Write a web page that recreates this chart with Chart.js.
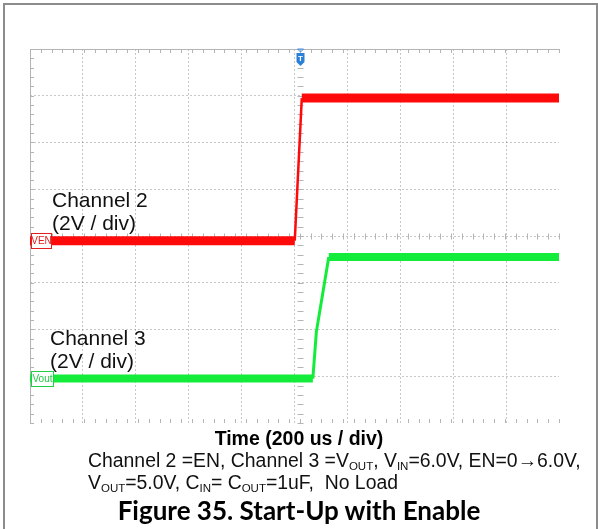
<!DOCTYPE html>
<html>
<head>
<meta charset="utf-8">
<script src="https://cdn.jsdelivr.net/npm/chart.js@4"></script>
<style>
  body { margin: 0; background: #fff; }
  #wrap { position: relative; width: 598px; height: 529px; overflow: hidden; font-family: "Liberation Sans", Arial, sans-serif; }
  #frame { position: absolute; left: 3px; top: 3px; width: 591px; height: 600px; border: 2px solid #8c8c8c; }
  canvas { position: absolute; left: 0; top: 0; }
  .lbl { position: absolute; font-size: 21px; line-height: 23px; color: #111; }
  .cap { position: absolute; left: 88px; font-size: 19.4px; line-height: 22px; color: #111; white-space: nowrap; }
  .cap sub { font-size: 11.5px; vertical-align: -3px; line-height: 0; }
  #xtitle { position: absolute; left: 0; width: 598px; top: 427px; line-height: 22px; text-align: center; font-weight: bold; font-size: 19.5px; color: #000; }
  #fig { position: absolute; left: 0; width: 598px; top: 494px; text-align: center; font-family: Lato, "Open Sans", sans-serif; font-weight: bold; font-size: 26px; color: #000; }
</style>
</head>
<body>
<div id="wrap">
  <div id="frame"></div>
  <canvas id="scope" width="598" height="529"></canvas>
  <div class="lbl" style="left:52px;top:188px">Channel 2<br>(2V / div)</div>
  <div class="lbl" style="left:50px;top:326px">Channel 3<br>(2V / div)</div>
  <div id="xtitle">Time (200 us / div)</div>
  <div class="cap" style="top:449px">Channel 2 =EN, Channel 3 =V<sub>OUT</sub>, V<sub>IN</sub>=6.0V, EN=0→6.0V,</div>
  <div class="cap" style="top:471px">V<sub>OUT</sub>=5.0V, C<sub>IN</sub>= C<sub>OUT</sub>=1uF,&nbsp; No Load</div>
  <div id="fig">Figure 35. Start-Up with Enable</div>
</div>
<script>
// scope settings
const usPerDiv = 200
const voltsPerDiv = 2
const timeMin = -1000
const timeMax = 960

// channel 2 (EN), ground marker at -0.1 div
const enGroundDiv = -0.1
const enTime = [-1000, -19, 7, 960]
const enVolts = [0, 0, 6.1, 6.1]

// channel 3 (VOUT), ground marker at -3.05 div
const voutGroundDiv = -3.05
const voutTime = [-1000, 48, 61, 107, 960]
const voutVolts = [0, 0, 2.0, 5.2, 5.2]

const toPoints = (ts, vs, gnd) => ts.map((t, i) => ({ x: t, y: gnd + vs[i] / voltsPerDiv }))

const scopeDecor = {
  id: 'scopeDecor',
  beforeDatasetsDraw(chart) {
    const { ctx, chartArea: a, scales: { x, y } } = chart
    ctx.save()
    ctx.strokeStyle = '#b4b4b4'
    ctx.lineWidth = 1
    ctx.beginPath()
    ctx.moveTo(a.left, a.top + 0.5); ctx.lineTo(a.right, a.top + 0.5)
    ctx.moveTo(a.left + 0.5, a.top); ctx.lineTo(a.left + 0.5, a.bottom)
    // minor ticks, 5 per division
    const cx = Math.round(x.getPixelForValue(0)) + 0.5
    const cy = Math.round(y.getPixelForValue(0)) + 0.5
    for (let t = timeMin; t <= timeMax; t += usPerDiv / 5) {
      const px = Math.round(x.getPixelForValue(t)) + 0.5
      ctx.moveTo(px, a.top); ctx.lineTo(px, a.top + 4)
      ctx.moveTo(px, a.bottom); ctx.lineTo(px, a.bottom - 4)
      ctx.moveTo(px, cy - 3); ctx.lineTo(px, cy + 3)
    }
    for (let d = -4; d <= 4; d += 0.2) {
      const py = Math.round(y.getPixelForValue(d)) + 0.5
      ctx.moveTo(a.left, py); ctx.lineTo(a.left + 4, py)
      ctx.moveTo(cx - 3, py); ctx.lineTo(cx + 3, py)
    }
    ctx.stroke()
    ctx.restore()
  },
  afterDatasetsDraw(chart) {
    const { ctx, chartArea: a, scales: { x, y } } = chart
    ctx.save()
    // ground level markers
    const marks = [
      { text: 'VEN', gnd: enGroundDiv, color: '#e02020', w: 20 },
      { text: 'Vout', gnd: voutGroundDiv, color: '#22cc44', w: 22 }
    ]
    marks.forEach(m => {
      const py = Math.round(y.getPixelForValue(m.gnd))
      ctx.fillStyle = '#fff'
      ctx.fillRect(a.left + 1, py - 8, m.w, 16)
      ctx.strokeStyle = m.color
      ctx.lineWidth = 1
      ctx.strokeRect(a.left + 1.5, py - 7.5, m.w, 15)
      ctx.fillStyle = m.color
      ctx.font = '10px "Liberation Sans Narrow", "Liberation Sans", sans-serif'
      ctx.textAlign = 'center'
      ctx.textBaseline = 'middle'
      ctx.fillText(m.text, a.left + 1.5 + m.w / 2, py + 0.5)
    })
    // trigger marker
    const tx = Math.round(x.getPixelForValue(0)) + 0.5
    const top = a.top
    ctx.strokeStyle = '#3a8ee6'
    ctx.beginPath()
    ctx.moveTo(tx - 3, top); ctx.lineTo(tx + 3, top); ctx.lineTo(tx, top + 3); ctx.closePath()
    ctx.stroke()
    ctx.fillStyle = '#2a7fd8'
    ctx.beginPath()
    ctx.moveTo(tx - 4, top + 4); ctx.lineTo(tx + 4, top + 4); ctx.lineTo(tx + 4, top + 13)
    ctx.lineTo(tx, top + 17); ctx.lineTo(tx - 4, top + 13); ctx.closePath()
    ctx.fill()
    ctx.fillStyle = '#fff'
    ctx.font = 'bold 8px "Liberation Sans", sans-serif'
    ctx.textAlign = 'center'
    ctx.textBaseline = 'middle'
    ctx.fillText('T', tx, top + 10)
    ctx.restore()
  }
}

const gridLine = (hide) => ({
  drawTicks: false,
  color: c => hide.includes(c.tick.value) ? 'rgba(0,0,0,0)' : 'rgba(0,0,0,0.22)',
  lineWidth: 1
})

new Chart(document.getElementById('scope'), {
  type: 'line',
  data: {
    datasets: [
      {
        label: 'Channel 2',
        data: toPoints(enTime, enVolts, enGroundDiv),
        borderColor: '#ff0a0a',
        borderWidth: 9,
        segment: { borderWidth: c => c.p1DataIndex === 2 ? 2.5 : 9 },
        pointRadius: 0,
        borderCapStyle: 'butt',
        tension: 0
      },
      {
        label: 'Channel 3',
        data: toPoints(voutTime, voutVolts, voutGroundDiv),
        borderColor: '#14ec3c',
        borderWidth: 8,
        segment: { borderWidth: c => (c.p1DataIndex === 2 || c.p1DataIndex === 3) ? 3 : 8 },
        pointRadius: 0,
        borderCapStyle: 'butt',
        tension: 0
      }
    ]
  },
  options: {
    responsive: false,
    animation: false,
    layout: { padding: { left: 30, top: 49, right: 39, bottom: 106 } },
    plugins: { legend: { display: false }, tooltip: { enabled: false } },
    scales: {
      x: {
        type: 'linear',
        min: timeMin,
        max: timeMax,
        ticks: { display: false, stepSize: usPerDiv },
        grid: gridLine([timeMin, timeMax]),
        border: { display: false, dash: [2, 2] }
      },
      y: {
        type: 'linear',
        min: -4,
        max: 4,
        ticks: { display: false, stepSize: 1 },
        grid: gridLine([-4, 4]),
        border: { display: false, dash: [2, 2] }
      }
    }
  },
  plugins: [scopeDecor]
})
</script>
</body>
</html>
